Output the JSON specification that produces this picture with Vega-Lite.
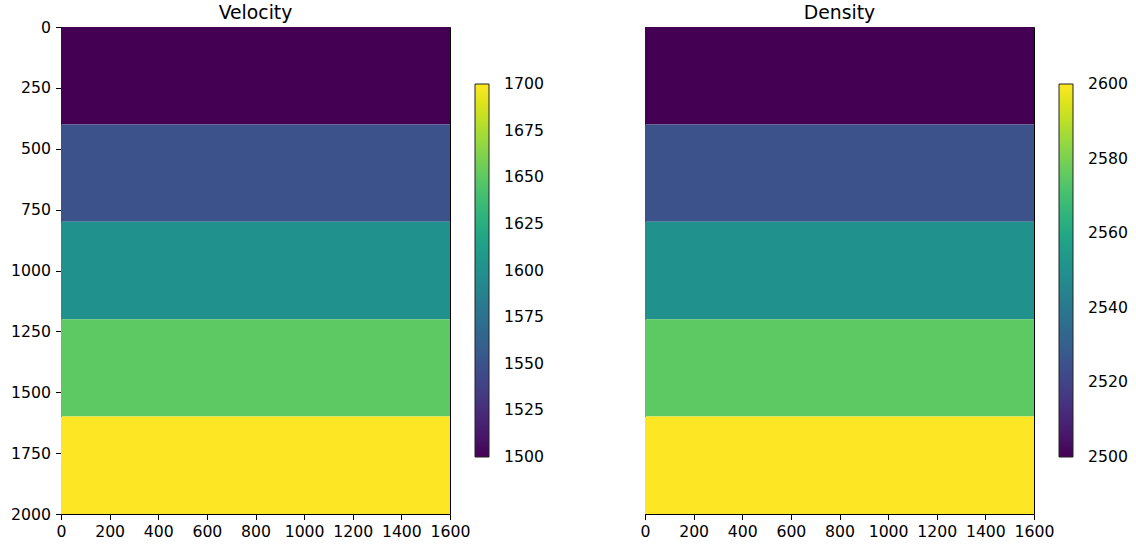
{
  "$schema": "https://vega.github.io/schema/vega-lite/v6.json",
  "background": "white",
  "padding": {"left": 10, "top": 3, "right": 5, "bottom": 5},
  "bounds": "flush",
  "spacing": 195,
  "datasets": {
    "layers": [
      {"x0": 0, "x1": 1600, "top": 0, "bottom": 400, "velocity": 1500, "density": 2500},
      {"x0": 0, "x1": 1600, "top": 400, "bottom": 800, "velocity": 1550, "density": 2525},
      {"x0": 0, "x1": 1600, "top": 800, "bottom": 1200, "velocity": 1600, "density": 2550},
      {"x0": 0, "x1": 1600, "top": 1200, "bottom": 1600, "velocity": 1650, "density": 2575},
      {"x0": 0, "x1": 1600, "top": 1600, "bottom": 2000, "velocity": 1700, "density": 2600}
    ]
  },
  "data": {"name": "layers"},
  "resolve": {"scale": {"color": "independent"}},
  "config": {
    "font": "DejaVu Sans",
    "numberFormat": "d",
    "view": {"stroke": "black", "strokeWidth": 1},
    "axis": {
      "domain": false,
      "grid": false,
      "title": null,
      "tickColor": "black",
      "tickSize": 5.5,
      "tickWidth": 1,
      "labelPadding": 5,
      "labelFont": "DejaVu Sans",
      "labelFontSize": 15.7,
      "labelColor": "black",
      "labelFlush": false,
      "labelOverlap": false,
      "labelBound": false
    },
    "title": {
      "font": "DejaVu Sans",
      "fontSize": 18.8,
      "fontWeight": "normal",
      "color": "black",
      "baseline": "alphabetic",
      "frame": "group",
      "anchor": "middle"
    },
    "legend": {
      "orient": "none",
      "title": null,
      "direction": "vertical",
      "gradientLength": 373,
      "gradientThickness": 14,
      "gradientStrokeColor": "#222222",
      "gradientStrokeWidth": 1,
      "labelFont": "DejaVu Sans",
      "labelFontSize": 15.7,
      "labelColor": "black",
      "labelAlign": "left",
      "labelOverlap": false,
      "padding": 0
    }
  },
  "hconcat": [
    {
      "width": 389,
      "height": 487,
      "title": {"text": "Velocity", "offset": -4},
      "mark": {"type": "rect"},
      "encoding": {
        "x": {
          "field": "x0",
          "type": "quantitative",
          "scale": {"domain": [0, 1600], "nice": false, "zero": false},
          "axis": {"values": [0, 200, 400, 600, 800, 1000, 1200, 1400, 1600]}
        },
        "x2": {"field": "x1"},
        "y": {
          "field": "top",
          "type": "quantitative",
          "scale": {"domain": [0, 2000], "nice": false, "reverse": true},
          "axis": {"values": [0, 250, 500, 750, 1000, 1250, 1500, 1750, 2000]}
        },
        "y2": {"field": "bottom"},
        "color": {
          "field": "velocity",
          "type": "quantitative",
          "scale": {"scheme": "viridis", "domain": [1500, 1700]},
          "legend": {
            "legendX": 414,
            "legendY": 57,
            "labelOffset": 15,
            "values": [1500, 1525, 1550, 1575, 1600, 1625, 1650, 1675, 1700],
            "encode": {"labels": {"update": {"baseline": {"value": "middle"}}}}
          }
        }
      }
    },
    {
      "width": 389,
      "height": 487,
      "title": {"text": "Density", "offset": 4},
      "mark": {"type": "rect"},
      "encoding": {
        "x": {
          "field": "x0",
          "type": "quantitative",
          "scale": {"domain": [0, 1600], "nice": false, "zero": false},
          "axis": {"values": [0, 200, 400, 600, 800, 1000, 1200, 1400, 1600]}
        },
        "x2": {"field": "x1"},
        "y": {
          "field": "top",
          "type": "quantitative",
          "scale": {"domain": [0, 2000], "nice": false, "reverse": true},
          "axis": null
        },
        "y2": {"field": "bottom"},
        "color": {
          "field": "density",
          "type": "quantitative",
          "scale": {"scheme": "viridis", "domain": [2500, 2600]},
          "legend": {
            "legendX": 414,
            "legendY": 57,
            "labelOffset": 15,
            "values": [2500, 2520, 2540, 2560, 2580, 2600],
            "encode": {"labels": {"update": {"baseline": {"value": "middle"}}}}
          }
        }
      }
    }
  ]
}
